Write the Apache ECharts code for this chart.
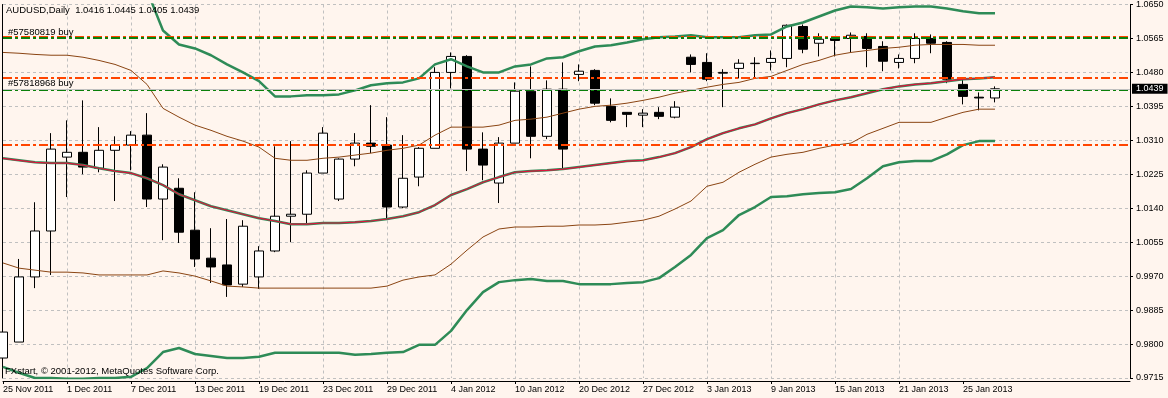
<!DOCTYPE html>
<html lang="en">
<head>
    <meta charset="UTF-8">
    <title>AUDUSD,Daily</title>
    <script src="https://cdn.jsdelivr.net/npm/echarts@6.0.0/dist/echarts.min.js"></script>
    <style>
        html, body { margin: 0; padding: 0; background: #fff5ee; }
    </style>
</head>
<body>
    <div id="chart" style="width: 1168px; height: 398px;"></div>
    <script>
        // bar dates (one per candle)
        const dates = [
            '25 Nov 2011', '28 Nov 2011', '29 Nov 2011', '30 Nov 2011', '1 Dec 2011', '2 Dec 2011', '5 Dec 2011', '6 Dec 2011',
            '7 Dec 2011', '8 Dec 2011', '9 Dec 2011', '12 Dec 2011', '13 Dec 2011', '14 Dec 2011', '15 Dec 2011', '16 Dec 2011',
            '19 Dec 2011', '20 Dec 2011', '21 Dec 2011', '22 Dec 2011', '23 Dec 2011', '26 Dec 2011', '27 Dec 2011', '28 Dec 2011',
            '29 Dec 2011', '30 Dec 2011', '2 Jan 2012', '3 Jan 2012', '4 Jan 2012', '5 Jan 2012', '6 Jan 2012', '9 Jan 2012',
            '10 Jan 2012', '11 Jan 2012', '12 Jan 2012', '19 Dec 2012', '20 Dec 2012', '21 Dec 2012', '24 Dec 2012', '26 Dec 2012',
            '27 Dec 2012', '28 Dec 2012', '31 Dec 2012', '2 Jan 2013', '3 Jan 2013', '4 Jan 2013', '7 Jan 2013', '8 Jan 2013',
            '9 Jan 2013', '10 Jan 2013', '11 Jan 2013', '14 Jan 2013', '15 Jan 2013', '16 Jan 2013', '17 Jan 2013', '18 Jan 2013',
            '21 Jan 2013', '22 Jan 2013', '23 Jan 2013', '24 Jan 2013', '25 Jan 2013', '28 Jan 2013', '29 Jan 2013'
        ];
        const opens = [
            0.9765, 0.9805, 0.9968, 1.0083, 1.0268, 1.0280, 1.0240, 1.0285, 1.0298, 1.0323,
            1.0163, 1.0190, 1.0085, 1.0015, 0.9998, 0.9950, 0.9968, 1.0033, 1.0120, 1.0125,
            1.0228, 1.0163, 1.0263, 1.0303, 1.0298, 1.0143, 1.0218, 1.0290, 1.0480, 1.0520,
            1.0288, 1.0203, 1.0303, 1.0433, 1.0320, 1.0438, 1.0475, 1.0485, 1.0395, 1.0380,
            1.0373, 1.0380, 1.0368, 1.0518, 1.0505, 1.0478, 1.0490, 1.0502, 1.0505, 1.0515,
            1.0595, 1.0553, 1.0565, 1.0565, 1.0570, 1.0545, 1.0505, 1.0515, 1.0565, 1.0555,
            1.0450, 1.0418, 1.0416
        ];
        const closes = [
            0.9830, 0.9968, 1.0083, 1.0288, 1.0280, 1.0243, 1.0285, 1.0298, 1.0323, 1.0163,
            1.0243, 1.0080, 1.0013, 0.9993, 0.9948, 1.0095, 1.0033, 1.0120, 1.0125, 1.0228,
            1.0328, 1.0263, 1.0303, 1.0295, 1.0143, 1.0215, 1.0290, 1.0480, 1.0520, 1.0288,
            1.0248, 1.0303, 1.0433, 1.0320, 1.0438, 1.0288, 1.0483, 1.0403, 1.0360, 1.0375,
            1.0378, 1.0370, 1.0393, 1.0500, 1.0463, 1.0480, 1.0503, 1.0503, 1.0515, 1.0598,
            1.0538, 1.0563, 1.0560, 1.0573, 1.0540, 1.0508, 1.0515, 1.0565, 1.0553, 1.0463,
            1.0420, 1.0416, 1.0439
        ];
        const lows = [
            0.9755, 0.9805, 0.9940, 0.9973, 1.0168, 1.0225, 1.0230, 1.0158, 1.0235, 1.0143,
            1.0060, 1.0053, 0.9993, 0.9953, 0.9918, 0.9943, 0.9938, 1.0030, 1.0055, 1.0098,
            1.0228, 1.0158, 1.0245, 1.0278, 1.0113, 1.0140, 1.0195, 1.0290, 1.0440, 1.0233,
            1.0210, 1.0153, 1.0303, 1.0265, 1.0313, 1.0240, 1.0458, 1.0398, 1.0355, 1.0343,
            1.0343, 1.0363, 1.0365, 1.0480, 1.0458, 1.0393, 1.0465, 1.0468, 1.0485, 1.0493,
            1.0528, 1.0520, 1.0520, 1.0530, 1.0493, 1.0483, 1.0490, 1.0503, 1.0528, 1.0453,
            1.0400, 1.0385, 1.0405
        ];
        const highs = [
            0.9865, 1.0013, 1.0155, 1.0328, 1.0360, 1.0410, 1.0343, 1.0320, 1.0333, 1.0378,
            1.0250, 1.0215, 1.0180, 1.0090, 1.0113, 1.0110, 1.0045, 1.0295, 1.0308, 1.0235,
            1.0343, 1.0265, 1.0328, 1.0398, 1.0368, 1.0323, 1.0293, 1.0493, 1.0530, 1.0523,
            1.0330, 1.0318, 1.0455, 1.0495, 1.0460, 1.0505, 1.0500, 1.0488, 1.0415, 1.0380,
            1.0388, 1.0393, 1.0408, 1.0525, 1.0528, 1.0488, 1.0513, 1.0518, 1.0535, 1.0600,
            1.0600, 1.0578, 1.0570, 1.0580, 1.0578, 1.0558, 1.0525, 1.0578, 1.0575, 1.0558,
            1.0468, 1.0430, 1.0445
        ];
        // bollinger bands: middle, inner (brown) and outer (green)
        const bbMiddle = [
            1.0265, 1.0260, 1.0255, 1.0253, 1.0253, 1.0248, 1.0240, 1.0233, 1.0228, 1.0215,
            1.0198, 1.0175, 1.0160, 1.0145, 1.0135, 1.0125, 1.0115, 1.0108, 1.0100, 1.0100,
            1.0103, 1.0103, 1.0105, 1.0108, 1.0113, 1.0120, 1.0130, 1.0148, 1.0173, 1.0188,
            1.0205, 1.0218, 1.0230, 1.0233, 1.0235, 1.0238, 1.0243, 1.0248, 1.0253, 1.0258,
            1.0260, 1.0268, 1.0278, 1.0293, 1.0313, 1.0328, 1.0340, 1.0350, 1.0365, 1.0378,
            1.0388, 1.0400, 1.0410, 1.0418, 1.0428, 1.0438, 1.0445, 1.0450, 1.0453, 1.0458,
            1.0463, 1.0465, 1.0468
        ];
        const bbInnerUp = [
            1.0530, 1.0528, 1.0525, 1.0523, 1.0523, 1.0518, 1.0510, 1.0500, 1.0485, 1.0450,
            1.0390, 1.0368, 1.0348, 1.0335, 1.0320, 1.0308, 1.0293, 1.0265, 1.0260, 1.0260,
            1.0265, 1.0268, 1.0273, 1.0278, 1.0285, 1.0290, 1.0298, 1.0323, 1.0343, 1.0343,
            1.0343, 1.0348, 1.0360, 1.0363, 1.0368, 1.0378, 1.0388, 1.0395, 1.0398, 1.0403,
            1.0410, 1.0418, 1.0428, 1.0435, 1.0443, 1.0450, 1.0455, 1.0465, 1.0470, 1.0485,
            1.0500, 1.0510, 1.0523, 1.0530, 1.0535, 1.0540, 1.0543, 1.0548, 1.0550, 1.0550,
            1.0550, 1.0548, 1.0548
        ];
        const bbInnerDown = [
            1.0003, 0.9990, 0.9985, 0.9980, 0.9980, 0.9978, 0.9973, 0.9973, 0.9973, 0.9973,
            0.9983, 0.9978, 0.9970, 0.9958, 0.9945, 0.9943, 0.9940, 0.9940, 0.9940, 0.9940,
            0.9940, 0.9940, 0.9940, 0.9940, 0.9945, 0.9960, 0.9968, 0.9973, 1.0000, 1.0035,
            1.0068, 1.0088, 1.0093, 1.0093, 1.0095, 1.0095, 1.0098, 1.0098, 1.0100, 1.0105,
            1.0110, 1.0120, 1.0138, 1.0158, 1.0195, 1.0205, 1.0230, 1.0250, 1.0268, 1.0275,
            1.0280, 1.0290, 1.0298, 1.0303, 1.0325, 1.0340, 1.0355, 1.0355, 1.0355, 1.0368,
            1.0380, 1.0388, 1.0388
        ];
        const bbOuterUp = [
            1.0795, 1.0795, 1.0795, 1.0793, 1.0793, 1.0788, 1.0780, 1.0768, 1.0743, 1.0685,
            1.0585, 1.0550, 1.0540, 1.0523, 1.0500, 1.0480, 1.0458, 1.0420, 1.0420, 1.0423,
            1.0423, 1.0425, 1.0435, 1.0448, 1.0453, 1.0455, 1.0465, 1.0500, 1.0513, 1.0495,
            1.0480, 1.0480, 1.0495, 1.0500, 1.0515, 1.0518, 1.0533, 1.0545, 1.0548, 1.0555,
            1.0563, 1.0568, 1.0570, 1.0573, 1.0568, 1.0568, 1.0568, 1.0573, 1.0575, 1.0595,
            1.0605, 1.0620, 1.0635, 1.0645, 1.0643, 1.0640, 1.0643, 1.0645, 1.0645, 1.0640,
            1.0633, 1.0628, 1.0628
        ];
        const bbOuterDown = [
            0.9743, 0.9728, 0.9715, 0.9715, 0.9713, 0.9713, 0.9715, 0.9715, 0.9718, 0.9740,
            0.9780, 0.9790, 0.9775, 0.9770, 0.9765, 0.9765, 0.9768, 0.9778, 0.9778, 0.9778,
            0.9778, 0.9778, 0.9773, 0.9775, 0.9778, 0.9780, 0.9798, 0.9798, 0.9833, 0.9885,
            0.9930, 0.9955, 0.9960, 0.9963, 0.9958, 0.9958, 0.9950, 0.9950, 0.9950, 0.9953,
            0.9955, 0.9965, 0.9993, 1.0023, 1.0065, 1.0085, 1.0123, 1.0143, 1.0168, 1.0170,
            1.0175, 1.0178, 1.0180, 1.0188, 1.0215, 1.0245, 1.0255, 1.0258, 1.0258, 1.0275,
            1.0298, 1.0308, 1.0308
        ];
        // order lines: open price (green) and stop / take levels (red)
        const orderNames = ['#57580819 buy', '#57818968 buy'];
        const orderPrices = [1.0566, 1.0437];
        const stopLevels = [1.0570, 1.0467, 1.0300];
        const bidPrice = 1.0439;
        // axis setup
        const labelIdx = [0, 4, 8, 12, 16, 20, 24, 28, 32, 36, 40, 44, 48, 52, 56, 60];
        const yMin = 0.9715, yMax = 1.0650, yStep = 0.0085;
        const xMax = 70.4375; // empty space after the last bar

        const font = '"Liberation Sans", Arial, sans-serif';
        const chart = echarts.init(document.querySelector('#chart'));

        const candles = opens.map((o, i) => [i, o, closes[i], lows[i], highs[i]]);
        const pts = arr => arr.map((v, i) => [i, v]);
        const band = (arr, color, width, z) => ({
            type: 'line', data: pts(arr), symbol: 'none', silent: true, z: z,
            lineStyle: { color: color, width: width }
        });
        const dashDot = [9, 3, 3, 3];

        const levelLines = [];
        stopLevels.forEach(v => levelLines.push({
            yAxis: v, lineStyle: { color: '#ff4500', width: 2, type: dashDot }
        }));
        orderPrices.forEach((v, i) => levelLines.push({
            yAxis: v, lineStyle: { color: '#0a800a', width: 2, type: dashDot },
            label: { show: true, position: 'insideStartTop', formatter: orderNames[i],
                color: '#000', fontSize: 9.5, fontFamily: font, distance: [5, 1] }
        }));
        levelLines.push({
            yAxis: bidPrice, lineStyle: { color: '#c0c0c0', width: 1, type: 'solid' },
            label: { show: true, position: 'end', formatter: bidPrice.toFixed(4), color: '#fff',
                backgroundColor: '#000', padding: [1, 4, 0, 4], fontSize: 9, fontFamily: font, distance: 2 }
        });

        const option = {
            animation: false,
            backgroundColor: '#fff5ee',
            title: [
                {
                    text: 'AUDUSD,Daily  1.0416 1.0445 1.0405 1.0439',
                    left: 6, top: 5, padding: 0,
                    textStyle: { fontSize: 9.5, fontWeight: 'normal', color: '#000', fontFamily: font }
                },
                {
                    text: 'FXstart, © 2001-2012, MetaQuotes Software Corp.',
                    left: 5, top: 366, padding: 0,
                    textStyle: { fontSize: 9.5, fontWeight: 'normal', color: '#000', fontFamily: font }
                }
            ],
            grid: { left: 3, right: 38, top: 4, bottom: 20 },
            xAxis: {
                type: 'value', min: 0, max: xMax, interval: 2,
                axisLine: { onZero: false, lineStyle: { color: '#000', width: 1 } },
                offset: 3,
                axisTick: { customValues: labelIdx, length: 3, lineStyle: { color: '#000' } },
                axisLabel: {
                    customValues: labelIdx, formatter: v => dates[v], align: 'left', margin: 4,
                    fontSize: 9, color: '#000', fontFamily: font
                },
                splitLine: { show: true, showMinLine: false, showMaxLine: false,
                    lineStyle: { color: '#c0c0c0', type: [3, 3] } }
            },
            yAxis: [
                {
                    type: 'value', position: 'right', min: yMin, max: yMax, interval: yStep,
                    axisLine: { show: true, onZero: false, lineStyle: { color: '#000' } },
                    axisTick: { show: true, length: 3, lineStyle: { color: '#000' } },
                    axisLabel: { formatter: v => v.toFixed(4), margin: 6, fontSize: 9, color: '#000', fontFamily: font },
                    splitLine: { show: true, lineStyle: { color: '#c0c0c0', type: [3, 3] } }
                },
                {
                    // left frame
                    type: 'value', position: 'left', min: yMin, max: yMax, offset: 1,
                    axisLine: { show: true, onZero: false, lineStyle: { color: '#000' } },
                    axisTick: { show: false }, axisLabel: { show: false }, splitLine: { show: false }
                }
            ],
            series: [
                {
                    type: 'line', data: [], z: 1, silent: true,
                    markLine: { symbol: 'none', silent: true, precision: 4, label: { show: false }, data: levelLines }
                },
                {
                    type: 'candlestick', data: candles, barWidth: 9, z: 2, silent: true,
                    itemStyle: { color: '#ffffff', color0: '#000000', borderColor: '#000000',
                        borderColor0: '#000000', borderWidth: 1 }
                },
                band(bbInnerUp, '#8b4513', 1, 3),
                band(bbInnerDown, '#8b4513', 1, 3),
                band(bbOuterUp, '#2e8b57', 2.5, 3),
                band(bbOuterDown, '#2e8b57', 2.5, 3),
                // middle line is drawn twice (green and crimson), as in the terminal
                band(bbMiddle, '#2e8b57', 2.5, 3),
                band(bbMiddle, '#dc143c', 1.2, 4)
            ]
        };
        chart.setOption(option);
    </script>
</body>
</html>
